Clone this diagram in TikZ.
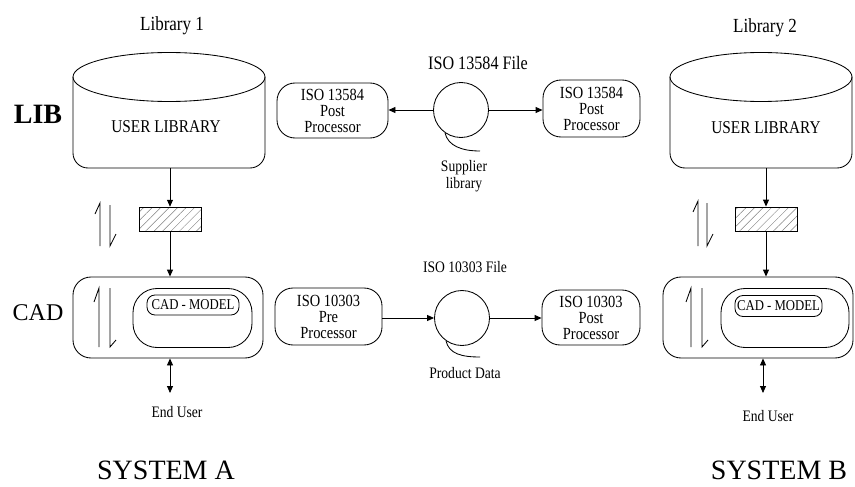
\documentclass[tikz,border=0pt]{standalone}
\usepackage{fontspec}
\setmainfont{Liberation Serif}
\newfontfamily\condfont[FakeStretch=0.85]{Liberation Serif}
\usetikzlibrary{arrows.meta,patterns.meta}
\begin{document}
\begin{tikzpicture}[x=1pt,y=-1pt, line width=0.85pt,
  tip/.style={-{Triangle[length=7pt,width=6pt]}},
  dtip/.style={{Triangle[length=7pt,width=6pt]}-{Triangle[length=7pt,width=6pt]}},
  procbox/.style={draw, rounded corners=18pt, align=center, inner sep=0pt,
     font=\condfont\fontsize{17}{16}\selectfont},
  hatchbox/.style={draw, minimum width=62pt, minimum height=24pt, inner sep=0pt,
     pattern={Lines[angle=45,distance=6pt,line width=0.5pt]}, pattern color=gray},
  filecircle/.style={draw, circle, minimum size=55pt, inner sep=0pt},
  biglabel/.style={font=\fontsize{24}{26}\selectfont},
  syslabel/.style={font=\fontsize{28}{30}\selectfont},
  liblabel/.style={font=\condfont\fontsize{20}{22}\selectfont},
  ulabel/.style={font=\condfont\fontsize{18}{20}\selectfont},
  small/.style={font=\condfont\fontsize{16}{17}\selectfont, align=center},
  modelbox/.style={draw, rounded corners=8pt, inner sep=0pt, font=\condfont\fontsize{15}{16}\selectfont}
]
\useasboundingbox (0,0) rectangle (855,487);

% ---------- System A ----------
\node[liblabel] (lib1t) at (172,26) {Library 1};
\node[font=\fontsize{28}{30}\selectfont\bfseries] (libl) at (38,114) {LIB};
\node[biglabel] (cadl) at (38,313) {CAD};
\draw (169,77) ellipse [x radius=96pt, y radius=24.5pt];
\draw[rounded corners=15pt] (73,77) -- (73,168) -- (265,168) -- (265,77);
\node[ulabel] (ulib1) at (166,127) {USER LIBRARY};
\coordinate (lib1b) at (170,168);
\node[hatchbox] (hatchA) at (170,219) {};
\draw[tip] (lib1b) -- (hatchA.north);
\node[draw, rounded corners=18pt, minimum width=190pt, minimum height=81pt] (cadA) at (168,317.5) {};
\draw[tip] (hatchA.south) -- (hatchA.south |- cadA.north);
\node[draw, rounded corners=24pt, minimum width=119pt, minimum height=59pt] (innerA) at (192.5,318) {};
\node[modelbox, minimum width=92pt, minimum height=20pt] (modelA) at (193,305) {CAD - MODEL};
\coordinate (euA) at (170,393);
\draw[dtip] (cadA.south -| euA) -- (euA);
\node[small] (euAt) at (177,412) {End User};
\node[syslabel] (sysA) at (166,470) {SYSTEM A};
% harpoons
\draw (100,246) -- (100,203) -- (95,214);
\draw (110,205) -- (110,246) -- (116,234);
\draw (99,347) -- (99,288) -- (94,302);
\draw (110,288) -- (110,347) -- (116,340);

% ---------- middle ----------
\node[font=\condfont\fontsize{19}{21}\selectfont] (f1) at (478,63) {ISO 13584 File};
\node[filecircle] (c1) at (461,110) {};
\draw (c1.235) .. controls (448,146) and (462,151) .. (480,151);
\node[small] (sup) at (464,176) {Supplier\\library};
\node[procbox, minimum width=111pt, minimum height=55pt] (pA) at (332.5,110.5) {ISO 13584\\Post\\Processor};
\node[procbox, minimum width=97pt, minimum height=57pt] (pB) at (591.5,108.5) {ISO 13584\\Post\\Processor};
\draw[tip] (c1.west) -- (c1.west -| pA.east);
\draw[tip] (c1.east) -- (c1.east -| pB.west);

\node[small] (f2) at (465,267) {ISO 10303 File};
\node[filecircle] (c2) at (462,318) {};
\draw (c2.235) .. controls (449,354) and (462,357) .. (480,357);
\node[small] (pd) at (465,373) {Product Data};
\node[procbox, minimum width=107pt, minimum height=57pt] (pC) at (328.5,316.5) {ISO 10303\\Pre\\Processor};
\node[procbox, minimum width=98pt, minimum height=55pt] (pD) at (591,317.5) {ISO 10303\\Post\\Processor};
\draw[tip] (pC.east |- c2.west) -- (c2.west);
\draw[tip] (c2.east) -- (c2.east -| pD.west);

% ---------- System B ----------
\node[liblabel] (lib2t) at (765,28) {Library 2};
\draw (761,77) ellipse [x radius=91pt, y radius=24.5pt];
\draw[rounded corners=15pt] (670,77) -- (670,168) -- (852,168) -- (852,77);
\node[ulabel] (ulib2) at (766,128) {USER LIBRARY};
\coordinate (lib2b) at (766,168);
\node[hatchbox] (hatchB) at (766,219) {};
\draw[tip] (lib2b) -- (hatchB.north);
\node[draw, rounded corners=18pt, minimum width=190pt, minimum height=81pt] (cadB) at (758,317.5) {};
\draw[tip] (hatchB.south) -- (hatchB.south |- cadB.north);
\node[draw, rounded corners=24pt, minimum width=128pt, minimum height=59pt] (innerB) at (785,318) {};
\node[modelbox, minimum width=87pt, minimum height=21pt] (modelB) at (778.5,306) {CAD - MODEL};
\coordinate (euB) at (763,393);
\draw[dtip] (cadB.south -| euB) -- (euB);
\node[small] (euBt) at (768,416) {End User};
\node[syslabel] (sysB) at (779,470) {SYSTEM B};
\draw (698,246) -- (698,201) -- (693,212);
\draw (707,203) -- (707,246) -- (713,234);
\draw (691,347) -- (691,288) -- (686,302);
\draw (702,288) -- (702,347) -- (708,340);
\end{tikzpicture}
\end{document}
